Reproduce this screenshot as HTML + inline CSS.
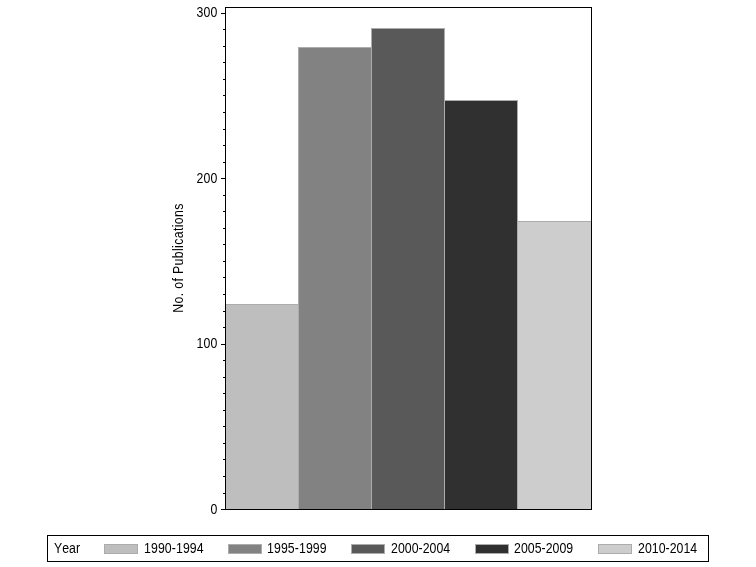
<!DOCTYPE html>
<html><head><meta charset="utf-8"><title>No. of Publications by Year</title>
<style>
html,body{margin:0;padding:0;background:#fff;}
body{width:756px;height:567px;position:relative;overflow:hidden;font-family:"Liberation Sans",Arial,sans-serif;font-size:12.3px;color:#000;font-kerning:none;}
.a{position:absolute;}
.k{position:absolute;background:#000;}
.t{position:absolute;white-space:nowrap;line-height:15px;height:15px;transform:scale(1,1.14);transform-origin:0 0;}
.yl{text-align:right;width:40px;left:177.5px;letter-spacing:0.16px;}
.bar{position:absolute;box-sizing:border-box;border:1px solid #acacac;}
.sw{position:absolute;box-sizing:border-box;border:1px solid #acacac;top:544px;height:10px;width:34px;}
</style></head><body>

<div class="bar" style="left:225px;top:304px;width:74px;height:206px;background:#bebebe"></div>
<div class="bar" style="left:298px;top:47px;width:74px;height:463px;background:#828282"></div>
<div class="bar" style="left:371px;top:28px;width:74px;height:482px;background:#595959"></div>
<div class="bar" style="left:444px;top:100px;width:74px;height:410px;background:#303030"></div>
<div class="bar" style="left:517px;top:221px;width:75px;height:289px;background:#cdcdcd"></div>
<div class="k" style="left:225px;top:7px;width:367px;height:1px"></div>
<div class="k" style="left:225px;top:509px;width:367px;height:1px"></div>
<div class="k" style="left:225px;top:7px;width:1px;height:503px"></div>
<div class="k" style="left:591px;top:7px;width:1px;height:503px"></div>
<div class="k" style="left:221px;top:13px;width:4px;height:1px"></div>
<div class="k" style="left:223px;top:29px;width:2px;height:1px"></div>
<div class="k" style="left:223px;top:46px;width:2px;height:1px"></div>
<div class="k" style="left:223px;top:62px;width:2px;height:1px"></div>
<div class="k" style="left:223px;top:79px;width:2px;height:1px"></div>
<div class="k" style="left:223px;top:95px;width:2px;height:1px"></div>
<div class="k" style="left:223px;top:112px;width:2px;height:1px"></div>
<div class="k" style="left:223px;top:129px;width:2px;height:1px"></div>
<div class="k" style="left:223px;top:145px;width:2px;height:1px"></div>
<div class="k" style="left:223px;top:162px;width:2px;height:1px"></div>
<div class="k" style="left:221px;top:178px;width:4px;height:1px"></div>
<div class="k" style="left:223px;top:195px;width:2px;height:1px"></div>
<div class="k" style="left:223px;top:211px;width:2px;height:1px"></div>
<div class="k" style="left:223px;top:228px;width:2px;height:1px"></div>
<div class="k" style="left:223px;top:244px;width:2px;height:1px"></div>
<div class="k" style="left:223px;top:261px;width:2px;height:1px"></div>
<div class="k" style="left:223px;top:277px;width:2px;height:1px"></div>
<div class="k" style="left:223px;top:294px;width:2px;height:1px"></div>
<div class="k" style="left:223px;top:311px;width:2px;height:1px"></div>
<div class="k" style="left:223px;top:327px;width:2px;height:1px"></div>
<div class="k" style="left:221px;top:344px;width:4px;height:1px"></div>
<div class="k" style="left:223px;top:360px;width:2px;height:1px"></div>
<div class="k" style="left:223px;top:377px;width:2px;height:1px"></div>
<div class="k" style="left:223px;top:393px;width:2px;height:1px"></div>
<div class="k" style="left:223px;top:410px;width:2px;height:1px"></div>
<div class="k" style="left:223px;top:426px;width:2px;height:1px"></div>
<div class="k" style="left:223px;top:443px;width:2px;height:1px"></div>
<div class="k" style="left:223px;top:459px;width:2px;height:1px"></div>
<div class="k" style="left:223px;top:476px;width:2px;height:1px"></div>
<div class="k" style="left:223px;top:493px;width:2px;height:1px"></div>
<div class="k" style="left:221px;top:509px;width:4px;height:1px"></div>
<div class="t yl" style="top:4px">300</div>
<div class="t yl" style="top:170px">200</div>
<div class="t yl" style="top:335px">100</div>
<div class="t yl" style="top:501px">0</div>
<div class="a" id="ylab" style="left:178px;top:258px;width:0;height:0;"><div class="a" style="left:-60px;top:-8px;width:120px;height:16px;line-height:16px;text-align:center;white-space:nowrap;transform-origin:60px 8px;transform:translate(0px,0px) rotate(-90deg) scale(1,1.14);letter-spacing:0.37px;">No. of Publications</div></div>
<div class="a" style="left:47px;top:535px;width:660px;height:25px;border:1px solid #000"></div>
<div class="t" style="left:54px;top:540px;letter-spacing:0px">Year</div>
<div class="sw" style="left:104px;background:#bebebe"></div>
<div class="t" style="left:144px;top:540px;letter-spacing:0.1px">1990-1994</div>
<div class="sw" style="left:228px;background:#828282"></div>
<div class="t" style="left:267px;top:540px;letter-spacing:0.1px">1995-1999</div>
<div class="sw" style="left:351px;background:#595959"></div>
<div class="t" style="left:391px;top:540px;letter-spacing:0.04px">2000-2004</div>
<div class="sw" style="left:475px;background:#303030"></div>
<div class="t" style="left:514px;top:540px;letter-spacing:0.04px">2005-2009</div>
<div class="sw" style="left:598px;background:#cdcdcd"></div>
<div class="t" style="left:638px;top:540px;letter-spacing:0.04px">2010-2014</div>
</body></html>
